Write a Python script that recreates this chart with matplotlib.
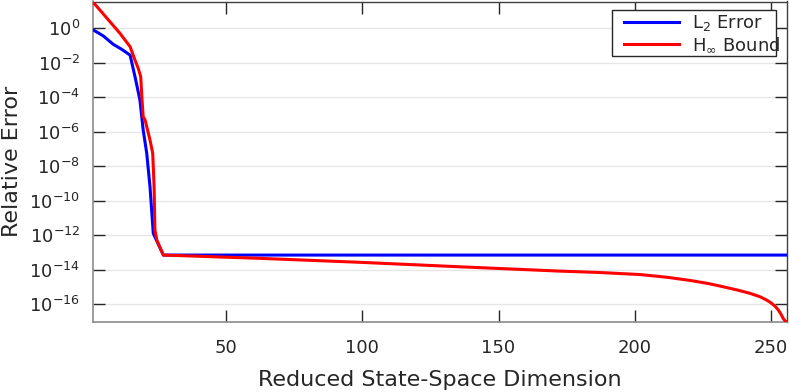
import numpy as np
import matplotlib
matplotlib.use("Agg")
import matplotlib.pyplot as plt
from matplotlib.ticker import FixedLocator, NullLocator, LogFormatterSciNotation
from matplotlib.patches import Rectangle

# Data (log10 of relative error)
dims_l2 = [1, 5, 8.6, 11.7, 14.8, 16.6, 18.4, 19.6, 20.9, 22.1, 23.3, 27, 256]
log_l2 = [-0.08, -0.46, -0.94, -1.23, -1.57, -2.82, -4.17, -5.91, -7.26, -9.2, -11.9, -13.16, -13.16]

dims_hinf = [1, 3.75, 7.4, 11.1, 14.8, 16.6, 17.8, 18.7, 19.1, 19.6, 20.3, 22.1, 23.1,
             23.6, 23.9, 24.6, 27, 62.5, 99.2, 135.9, 172.6, 187, 202, 212, 220.3, 227,
             232.5, 238, 242.3, 246, 248.4, 250, 251.5, 252.7, 253.7, 254.5, 255.3, 256]
log_hinf = [1.54, 1.04, 0.37, -0.31, -1.08, -1.86, -2.34, -2.82, -3.98, -5.14, -5.33,
            -6.49, -7.26, -9.2, -11.7, -12.29, -13.16, -13.35, -13.58, -13.84, -14.09,
            -14.17, -14.29, -14.45, -14.63, -14.81, -15.0, -15.2, -15.38, -15.58, -15.77,
            -15.93, -16.13, -16.35, -16.6, -16.85, -17.0, -17.04]

xticks = [50, 100, 150, 200, 250]
yticks_exp = [0, -2, -4, -6, -8, -10, -12, -14, -16]

plt.rcParams['mathtext.default'] = 'regular'
plt.rcParams['font.family'] = ['DejaVu Sans']

W, H = 789, 392
fig = plt.figure(figsize=(W / 100, H / 100), dpi=100)
ax = fig.add_axes([92.5 / W, (H - 322) / H, (787.4 - 92.5) / W, (322 - 1.5) / H])

l2 = 10.0 ** np.array(log_l2)
hinf = 10.0 ** np.array(log_hinf)

ax.semilogy(dims_l2, l2, color='#0000ff', lw=2.2, label=r'L$_2$ Error', zorder=3)
ax.semilogy(dims_hinf, hinf, color='#ff0000', lw=2.2, label=r'H$_\infty$ Bound', zorder=4)

ax.set_xlim(1, 256)
ax.set_ylim(min(hinf.min(), l2.min()), max(hinf.max(), l2.max()))

ax.xaxis.set_major_locator(FixedLocator(xticks))
ax.yaxis.set_major_locator(FixedLocator([10.0 ** e for e in yticks_exp]))
ax.yaxis.set_minor_locator(NullLocator())
ax.xaxis.set_minor_locator(NullLocator())
ax.yaxis.set_major_formatter(LogFormatterSciNotation())

ax.grid(True, axis='y', color='#e6e6e6', lw=1.0, zorder=0)
ax.set_axisbelow(True)

ax.tick_params(axis='both', which='major', direction='in', length=8.5, width=1.0,
               colors='#262626', labelsize=13, top=True, right=True)
ax.tick_params(axis='x', pad=12.5, labelcolor='#262626')
ax.tick_params(axis='y', pad=9, labelcolor='#262626')

for s in ['left', 'bottom']:
    ax.spines[s].set_color('#8c8c8c')
    ax.spines[s].set_linewidth(1.2)
for s in ['top', 'right']:
    ax.spines[s].set_color('#404040')
    ax.spines[s].set_linewidth(1.0)

ax.set_xlabel('Reduced State-Space Dimension', fontsize=16, color='#262626', labelpad=9)
ax.set_ylabel('Relative Error', fontsize=16, color='#262626', labelpad=5)

# legend box (text slightly overflows the box, as in the reference)
box = Rectangle((612 / W, 1 - 56 / H), 164 / W, 46 / H, transform=fig.transFigure,
                facecolor='white', edgecolor='#262626', lw=1.0, clip_on=False, zorder=8)
ax.add_patch(box)
leg = ax.legend(loc='upper right', bbox_to_anchor=(780 / W, 1 - 13 / H),
                bbox_transform=fig.transFigure,
                borderaxespad=0, fontsize=13, handlelength=3.05, frameon=False,
                borderpad=0, labelspacing=0.12, handletextpad=0.72)
leg.set_zorder(9)
for t in leg.get_texts():
    t.set_color('#262626')

fig.savefig('out.png', dpi=100)
